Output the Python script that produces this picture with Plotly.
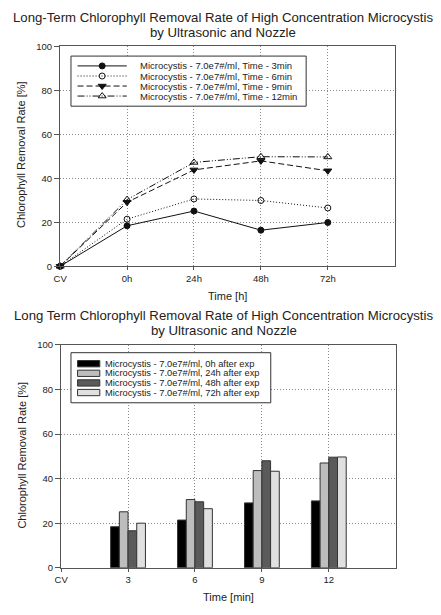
import plotly.graph_objects as go

W, H = 441, 615

# ---------------- data ----------------
time_labels = ["CV", "0h", "24h", "48h", "72h"]
time_pos = [0, 1, 2, 3, 4]
line_names = [
    "Microcystis - 7.0e7#/ml, Time - 3min",
    "Microcystis - 7.0e7#/ml, Time - 6min",
    "Microcystis - 7.0e7#/ml, Time - 9min",
    "Microcystis - 7.0e7#/ml, Time - 12min",
]
rate_3min = [0, 18.4, 25.1, 16.4, 19.9]
rate_6min = [0, 21.4, 30.6, 29.9, 26.5]
rate_9min = [0, 29.1, 43.8, 47.9, 43.4]
rate_12min = [0, 30.3, 47.2, 49.8, 49.7]

min_labels = ["CV", "3", "6", "9", "12"]
min_ticks = [0, 3, 6, 9, 12]
bar_x = [3, 6, 9, 12]
bar_names = [
    "Microcystis - 7.0e7#/ml, 0h after exp",
    "Microcystis - 7.0e7#/ml, 24h after exp",
    "Microcystis - 7.0e7#/ml, 48h after exp",
    "Microcystis - 7.0e7#/ml, 72h after exp",
]
bar_0h = [18.4, 21.4, 29.1, 30.0]
bar_24h = [25.1, 30.6, 43.6, 47.0]
bar_48h = [16.6, 29.6, 48.0, 49.6]
bar_72h = [20.0, 26.5, 43.3, 49.7]

# ---------------- styles ----------------
FONT = "Liberation Sans, Arial, sans-serif"
TXT = "#222222"
AX = "#555555"
GRID = "#8a8a8a"
line_styles = [
    dict(dash="solid", symbol="circle", size=6),
    dict(dash="1px,2px", symbol="circle-open", size=6),
    dict(dash="6px,3px", symbol="triangle-down", size=7),
    dict(dash="7px,2px,1px,2px,1px,2px", symbol="triangle-up-open", size=7),
]
bar_colors = ["#000000", "#bdbdbd", "#5a5a5a", "#e0e0e0"]


def px(x):
    return x / W


def py(y):
    return 1 - y / H


fig = go.Figure()

# ---------------- top: line chart ----------------
for name, vals, st in zip(line_names, [rate_3min, rate_6min, rate_9min, rate_12min], line_styles):
    fig.add_trace(go.Scatter(
        x=time_pos, y=vals, mode="lines+markers", name=name, showlegend=False,
        line=dict(color="#111111", width=1, dash=st["dash"]),
        marker=dict(symbol=st["symbol"], size=st["size"], color="#111111",
                    line=dict(color="#111111", width=1)),
        xaxis="x", yaxis="y", cliponaxis=False,
    ))

# ---------------- bottom: bar chart ----------------
for name, vals, col in zip(bar_names, [bar_0h, bar_24h, bar_48h, bar_72h], bar_colors):
    fig.add_trace(go.Bar(
        x=bar_x, y=vals, name=name, showlegend=False,
        marker=dict(color=col, line=dict(color="#333333", width=1)),
        xaxis="x2", yaxis="y2",
    ))

# ---------------- custom legends on an overlay pixel axis ----------------
def rect_trace(x0, y0, x1, y1, fill, lc, lw):
    return go.Scatter(
        x=[x0, x1, x1, x0, x0], y=[y0, y0, y1, y1, y0], mode="lines",
        fill="toself", fillcolor=fill, line=dict(color=lc, width=lw),
        showlegend=False, hoverinfo="skip", xaxis="x3", yaxis="y3",
    )

ann = []

# top legend
fig.add_trace(rect_trace(65, 51, 304, 102, "white", "#333333", 1))
top_rows = [61, 71.3, 81.5, 91.7]
for name, yy, st in zip(line_names, top_rows, line_styles):
    fig.add_trace(go.Scatter(
        x=[71.7, 121.7], y=[yy, yy], mode="lines", showlegend=False, hoverinfo="skip",
        line=dict(color="#111111", width=1, dash=st["dash"]), xaxis="x3", yaxis="y3",
    ))
    fig.add_trace(go.Scatter(
        x=[96.7], y=[yy], mode="markers", showlegend=False, hoverinfo="skip",
        marker=dict(symbol=st["symbol"], size=st["size"], color="#111111",
                    line=dict(color="#111111", width=1)),
        xaxis="x3", yaxis="y3",
    ))
    ann.append(dict(x=px(134), y=py(yy), xref="paper", yref="paper", text=name,
                    showarrow=False, xanchor="left", yanchor="middle", borderpad=0,
                    font=dict(size=9.5, color=TXT, family=FONT)))

# bottom legend
fig.add_trace(rect_trace(65, 353, 268, 404, "white", "#333333", 1))
bot_rows = [364.2, 374.0, 383.8, 393.6]
for name, yy, col in zip(bar_names, bot_rows, bar_colors):
    fig.add_trace(rect_trace(71.7, yy - 3.2, 94.3, yy + 3.2, col, "#333333", 1))
    ann.append(dict(x=px(99), y=py(yy), xref="paper", yref="paper", text=name,
                    showarrow=False, xanchor="left", yanchor="middle", borderpad=0,
                    font=dict(size=9.3, color=TXT, family=FONT)))

# titles and axis titles
def text(x, y, s, size, angle=0):
    return dict(x=px(x), y=py(y), xref="paper", yref="paper", text=s, showarrow=False,
                xanchor="center", yanchor="middle", textangle=angle,
                font=dict(size=size, color=TXT, family=FONT))

ann += [
    text(219, 12, "Long-Term Chlorophyll Removal Rate of High Concentration Microcystis", 13.2),
    text(219, 27, "by Ultrasonic and Nozzle", 13.2),
    text(220, 315, "Long Term Chlorophyll Removal Rate of High Concentration Microcystis", 13.2),
    text(221, 330, "by Ultrasonic and Nozzle", 13.2),
    text(224, 295, "Time [h]", 11),
    text(225, 602, "Time [min]", 11),
    text(15, 151, "Chlorophyll Removal Rate [%]", 11, -90),
    text(15, 457, "Chlorophyll Removal Rate [%]", 11, -90),
]

axis_common = dict(
    showline=True, mirror=True, linecolor=AX, linewidth=1.3,
    showgrid=True, gridcolor=GRID, griddash="1px,2px", gridwidth=1,
    zeroline=False, ticks="outside", tickcolor=AX,
    tickfont=dict(size=9.5, color=TXT, family=FONT), fixedrange=True,
)

fig.update_layout(
    width=W, height=H,
    margin=dict(l=0, r=0, t=0, b=0),
    paper_bgcolor="white", plot_bgcolor="rgba(0,0,0,0)",
    showlegend=False,
    barmode="group", bargap=0.48, bargroupgap=0,
    annotations=ann,
    xaxis=dict(domain=[px(54), px(394)], range=[0, 5], tickvals=time_pos, ticktext=time_labels,
               anchor="y", ticklen=3, **axis_common),
    yaxis=dict(domain=[py(265), py(41)], range=[0, 100], dtick=20, anchor="x",
               ticklen=5, **axis_common),
    xaxis2=dict(domain=[px(55), px(395)], range=[0, 15], tickvals=min_ticks, ticktext=min_labels,
                anchor="y2", ticklen=3, **axis_common),
    yaxis2=dict(domain=[py(572), py(345)], range=[0, 100], dtick=20, anchor="x2",
                ticklen=5, **axis_common),
    xaxis3=dict(domain=[0, 1], range=[0, W], visible=False, anchor="y3", fixedrange=True),
    yaxis3=dict(domain=[0, 1], range=[H, 0], visible=False, anchor="x3", fixedrange=True),
)

fig.write_html(
    "out.html",
    config={"displayModeBar": False},
    post_script="document.body.style.margin='0';document.body.style.padding='0';",
)
